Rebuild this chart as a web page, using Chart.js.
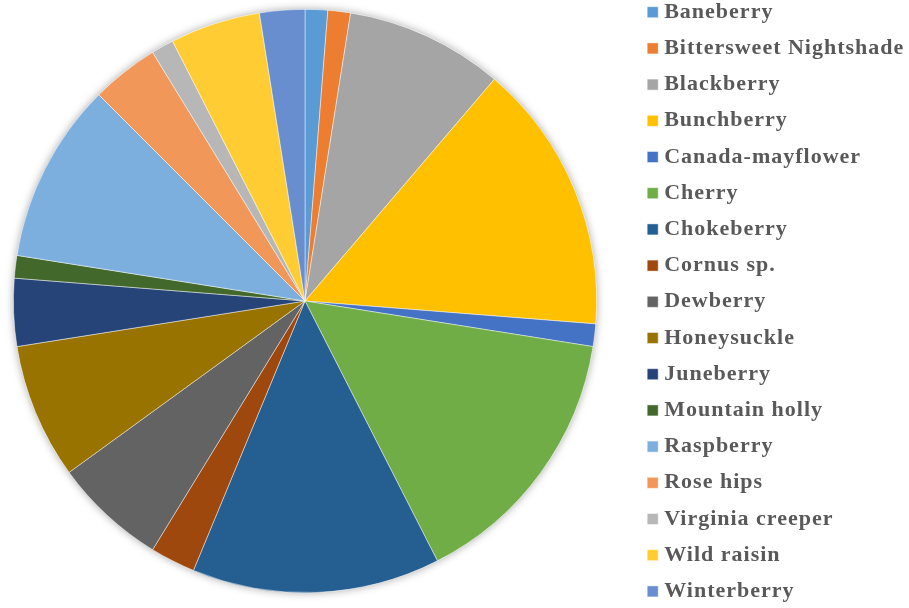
<!DOCTYPE html>
<html>
<head>
<meta charset="utf-8">
<script src="https://cdn.jsdelivr.net/npm/chart.js@4"></script>
<style>
  html, body { margin: 0; padding: 0; background: #fff; }
  #wrap { width: 909px; height: 608px; }
</style>
</head>
<body>
<div id="wrap"><canvas id="berryChart"></canvas></div>
<script>
const species = ['Baneberry', 'Bittersweet Nightshade', 'Blackberry', 'Bunchberry', 'Canada-mayflower',
    'Cherry', 'Chokeberry', 'Cornus sp.', 'Dewberry', 'Honeysuckle', 'Juneberry', 'Mountain holly',
    'Raspberry', 'Rose hips', 'Virginia creeper', 'Wild raisin', 'Winterberry'];
const counts = [1, 1, 7, 12, 1, 12, 11, 2, 5, 6, 3, 1, 8, 3, 1, 4, 2];
const sliceColors = ['#5B9BD5', '#ED7D31', '#A5A5A5', '#FFC000', '#4472C4', '#70AD47', '#255E91',
    '#9E480E', '#636363', '#997300', '#264478', '#43682B', '#7CAFDD', '#F1975A', '#B7B7B7',
    '#FFCD33', '#698ED0'];

// soft drop shadow behind the whole pie
const pieShadow = {
    id: 'pieShadow',
    beforeDatasetsDraw(chart) {
        const arc = chart.getDatasetMeta(0).data[0];
        if (!arc) return;
        const ctx = chart.ctx;
        ctx.save();
        ctx.shadowColor = 'rgba(0,0,0,0.35)';
        ctx.shadowBlur = 9;
        ctx.beginPath();
        ctx.arc(arc.x, arc.y, arc.outerRadius, 0, Math.PI * 2);
        ctx.fillStyle = '#fff';
        ctx.fill();
        ctx.restore();
    }
};

// keep legend in one column on the right, fixed width
const legendPlacement = {
    id: 'legendPlacement',
    beforeInit(chart) {
        const fit = chart.legend.fit;
        chart.legend.fit = function () {
            fit.call(this);
            this.width = 312;
        };
    },
    afterLayout(chart) {
        const lg = chart.legend;
        lg.left = 638;
        lg.right = 909;
        lg.top = -13;
        lg.bottom = 1000;
    },
    beforeDraw(chart) { chart.ctx.letterSpacing = '1px'; },
    afterDraw(chart) { chart.ctx.letterSpacing = '0px'; }
};

new Chart(document.getElementById('berryChart'), {
    type: 'pie',
    data: {
        labels: species,
        datasets: [{
            data: counts,
            backgroundColor: sliceColors,
            borderColor: 'rgba(255,255,255,0.6)',
            borderWidth: 0.75,
            hoverOffset: 0,
            offset: 0
        }]
    },
    options: {
        responsive: true,
        maintainAspectRatio: false,
        animation: false,
        layout: { padding: { left: 13, right: 0, top: 9, bottom: 15 } },
        plugins: {
            tooltip: { enabled: false },
            legend: {
                position: 'right',
                align: 'start',
                labels: {
                    color: '#595959',
                    font: { family: '"Liberation Serif", "Times New Roman", serif', size: 22, weight: 'bold' },
                    usePointStyle: true,
                    pointStyle: 'rect',
                    boxWidth: 1,
                    boxHeight: 11,
                    padding: 14.2
                }
            }
        }
    },
    plugins: [pieShadow, legendPlacement]
});
</script>
</body>
</html>
